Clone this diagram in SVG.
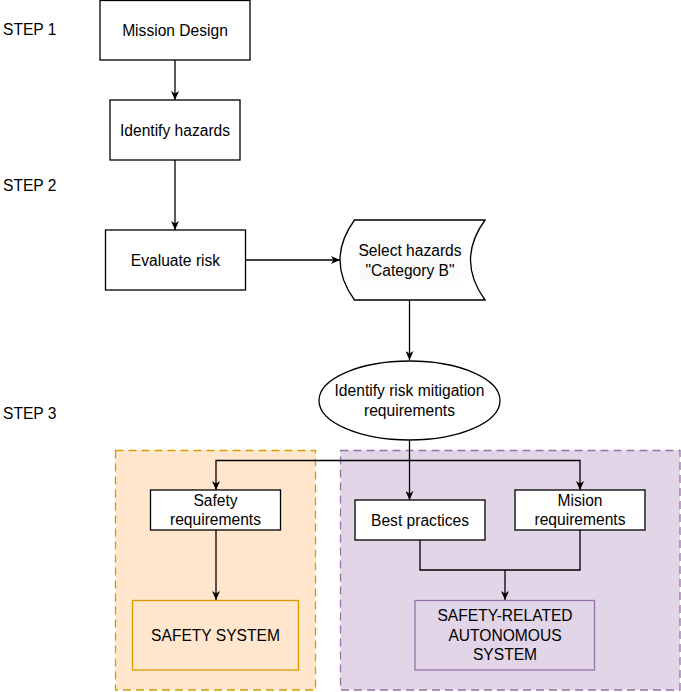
<svg xmlns="http://www.w3.org/2000/svg" width="681" height="692" viewBox="0 0 681 692">
  <style>
    text { font-family: "Liberation Sans", Arial, Helvetica, sans-serif; font-size: 15.6px; fill: #000; text-anchor: middle; }
    .lbl { text-anchor: start; }
    .box { fill: #fff; stroke: #000; stroke-width: 1.3; }
    .edge { fill: none; stroke: #000; stroke-width: 1.3; }
    .orange { fill: #ffe6cc; stroke: #d79b00; stroke-width: 1.3; }
    .purple { fill: #e1d5e7; stroke: #9673a6; stroke-width: 1.3; }
    .dash { stroke-dasharray: 8 5; }
  </style>
  <defs>
    <marker id="arrow" markerUnits="userSpaceOnUse" viewBox="0 0 9 8" markerWidth="9" markerHeight="8" refX="9" refY="4" orient="auto">
      <path d="M0,0 L9,4 L0,8 L2.5,4 Z" fill="#000"/>
    </marker>
  </defs>
  <rect width="681" height="692" fill="#fff"/>

  <g id="containers">
    <rect id="safety-container" class="orange dash" x="115.5" y="450.5" width="200" height="239.5"/>
    <rect id="autonomous-container" class="purple dash" x="340.5" y="450.5" width="339.5" height="239.5"/>
  </g>

  <g id="step-labels">
    <text class="lbl" x="3" y="35">STEP 1</text>
    <text class="lbl" x="3" y="190.5">STEP 2</text>
    <text class="lbl" x="3" y="419">STEP 3</text>
  </g>

  <g id="connectors">
    <line class="edge" x1="175" y1="60" x2="175" y2="100" marker-end="url(#arrow)"/>
    <line class="edge" x1="175" y1="160" x2="175" y2="230" marker-end="url(#arrow)"/>
    <line class="edge" x1="245.5" y1="260" x2="340" y2="260" marker-end="url(#arrow)"/>
    <line class="edge" x1="409.5" y1="300" x2="409.5" y2="360" marker-end="url(#arrow)"/>
    <line class="edge" x1="409.5" y1="440" x2="409.5" y2="500" marker-end="url(#arrow)"/>
    <path class="edge" d="M409.5,460.5 L216,460.5 L216,490" marker-end="url(#arrow)"/>
    <path class="edge" d="M409.5,460.5 L580,460.5 L580,490" marker-end="url(#arrow)"/>
    <line class="edge" x1="216" y1="530" x2="216" y2="600" marker-end="url(#arrow)"/>
    <path class="edge" d="M420,540 L420,570 L580,570 L580,530"/>
    <line class="edge" x1="505" y1="570" x2="505" y2="600" marker-end="url(#arrow)"/>
  </g>

  <g id="mission-design">
    <rect class="box" x="100" y="0.5" width="150" height="59.5"/>
    <text x="175" y="35.5">Mission Design</text>
  </g>
  <g id="identify-hazards">
    <rect class="box" x="110" y="100" width="130" height="60"/>
    <text x="175" y="135.5">Identify hazards</text>
  </g>
  <g id="evaluate-risk">
    <rect class="box" x="105.5" y="230" width="140" height="60"/>
    <text x="175.5" y="265.5">Evaluate risk</text>
  </g>
  <g id="select-hazards">
    <path class="box" d="M354.5,220 L485,220 Q456,260 485,300 L354.5,300 Q325.5,260 354.5,220 Z"/>
    <rect x="360" y="240" width="100" height="41" fill="#fafafa"/>
    <text x="410" y="255.5">Select hazards</text>
    <text x="410" y="275.5">"Category B"</text>
  </g>
  <g id="identify-risk-mitigation">
    <ellipse class="box" cx="409.5" cy="400.5" rx="90.5" ry="39.5"/>
    <text x="409.5" y="395.5">Identify risk mitigation</text>
    <text x="409.5" y="415.5">requirements</text>
  </g>
  <g id="safety-requirements">
    <rect class="box" x="150.5" y="490" width="130" height="40"/>
    <text x="215.5" y="505.7">Safety</text>
    <text x="215.5" y="525.2">requirements</text>
  </g>
  <g id="best-practices">
    <rect class="box" x="355" y="500" width="130" height="40"/>
    <text x="420" y="525.5">Best practices</text>
  </g>
  <g id="mision-requirements">
    <rect class="box" x="515" y="490" width="130" height="40"/>
    <text x="580" y="505.7">Mision</text>
    <text x="580" y="525.2">requirements</text>
  </g>
  <g id="safety-system">
    <rect class="orange" x="132.5" y="600.5" width="166" height="69.5"/>
    <text x="215.5" y="640.5">SAFETY SYSTEM</text>
  </g>
  <g id="safety-related-autonomous-system">
    <rect class="purple" x="415" y="600.5" width="179.5" height="69.5"/>
    <text x="505" y="621">SAFETY-RELATED</text>
    <text x="505" y="640.5">AUTONOMOUS</text>
    <text x="505" y="660">SYSTEM</text>
  </g>
</svg>
